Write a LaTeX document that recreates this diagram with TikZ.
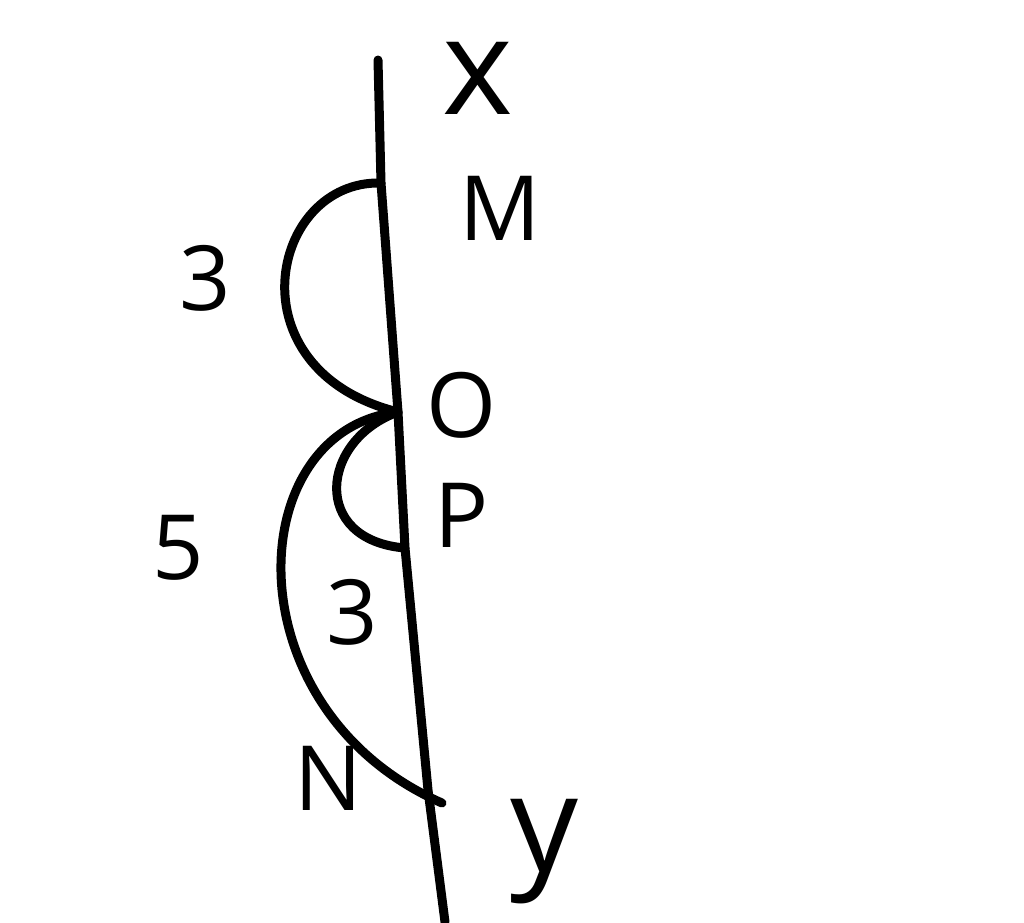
\documentclass[tikz,border=0pt]{standalone}
\usepackage{fontspec}
\setmainfont{Open Sans}

\begin{document}
\begin{tikzpicture}[x=1pt,y=-1pt,
    pen/.style={draw,line width=9pt,line cap=round,line join=round},
    lbl/.style={inner sep=0pt,font=\fontsize{90}{90}\selectfont},
    axis lbl/.style={inner sep=0pt,font=\fontsize{135}{135}\selectfont}]
    \useasboundingbox (0,0) rectangle (1024,922);
    % points on the line
    \coordinate (top) at (378,60);
    \coordinate (M) at (381,183);
    \coordinate (O) at (398,412);
    \coordinate (P) at (405,548);
    \coordinate (cross) at (428,790);
    \coordinate (bottom) at (445,922);
    \coordinate (Nend) at (442,803);
    % the line
    \draw[pen] (top) -- (M) -- (O) -- (P) -- (cross) -- (bottom);
    % arcs
    \draw[pen] (M) .. controls (270,180) and (230,370) .. (O);
    \draw[pen] (O) .. controls (240,430) and (230,710) .. (Nend);
    \draw[pen] (O) .. controls (320,440) and (310,540) .. (P);
    % labels
    \node[axis lbl] (xlbl) at (478,78) {x};
    \node[axis lbl] (ylbl) at (545,852) {y};
    \node[lbl] (Mlbl) at (500,208) {M};
    \node[lbl] (Olbl) at (462,405) {O};
    \node[lbl] (Plbl) at (462,515) {P};
    \node[lbl] (Nlbl) at (328,778) {N};
    \node[lbl] (arcMO) at (205,278) {3};
    \node[lbl] (arcON) at (178,548) {5};
    \node[lbl] (arcOP) at (352,612) {3};
\end{tikzpicture}
\end{document}
